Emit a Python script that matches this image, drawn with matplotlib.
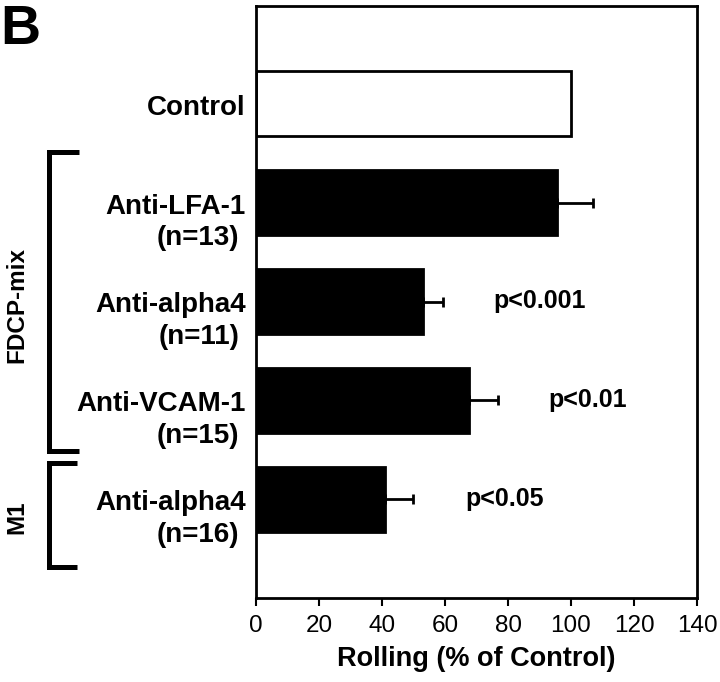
import matplotlib
matplotlib.use('Agg')
import matplotlib.pyplot as plt
from matplotlib.transforms import blended_transform_factory

plt.rcParams['font.family'] = ['Liberation Sans', 'DejaVu Sans']

categories = ['Control', 'Anti-LFA-1', 'Anti-alpha4', 'Anti-VCAM-1', 'Anti-alpha4']
n_labels = ['', '(n=13)', '(n=11)', '(n=15)', '(n=16)']
rolling = [100, 95.5, 53, 67.5, 41]
errors = [0, 11.5, 6.3, 9.3, 8.7]
bar_colors = ['white', 'black', 'black', 'black', 'black']
p_labels = ['', '', 'p<0.001', 'p<0.01', 'p<0.05']
p_x = [0, 0, 75.4, 92.7, 66.4]
groups = ['FDCP-mix', 'M1']
group_spans = [(0.49, 3.51), (3.63, 4.69)]
xticks = [0, 20, 40, 60, 80, 100, 120, 140]

fig = plt.figure(figsize=(7.2, 6.82), dpi=100)
ax = fig.add_axes([256/720, 1-598/682, 441/720, 592/682])
ypos = list(range(len(categories)))

ax.barh(ypos, rolling, height=0.66, color=bar_colors, edgecolor='black', linewidth=2, zorder=2)
ax.errorbar(rolling[1:], ypos[1:], xerr=[[0]*(len(errors)-1), errors[1:]], fmt='none',
            ecolor='black', elinewidth=2, capsize=3.6, capthick=2, zorder=3)

ax.set_xlim(0, 140)
ax.set_ylim(5.0, -0.99)
ax.set_yticks([])
ax.set_xticks(xticks)
ax.set_xticklabels([str(t) for t in xticks], fontsize=17.5)
ax.tick_params(axis='x', direction='out', length=6, width=1.5, pad=6)
for s in ax.spines.values():
    s.set_linewidth(2)
ax.set_xlabel('Rolling (% of Control)', fontsize=19.5, fontweight='bold', labelpad=7)

trans = blended_transform_factory(ax.transAxes, ax.transData)
for i, (cat, nl) in enumerate(zip(categories, n_labels)):
    ax.text(-0.0227, i + 0.11, cat, transform=trans, ha='right', va='baseline',
            fontsize=20, fontweight='bold', clip_on=False)
    if nl:
        ax.text(-0.0374, i + 0.43, nl, transform=trans, ha='right', va='baseline',
                fontsize=20, fontweight='bold', clip_on=False)

for i, p in enumerate(p_labels):
    if p:
        ax.text(p_x[i], i + 0.065, p, ha='left', va='baseline', fontsize=18, fontweight='bold')

bracket_right = [-0.4014, -0.406]
for (y0, y1), xr in zip(group_spans, bracket_right):
    ax.plot([xr, -0.4694, -0.4694, xr], [y0, y0, y1, y1], transform=trans, color='black',
            lw=3.6, clip_on=False, solid_joinstyle='miter', solid_capstyle='butt')

group_y = [2.04, 4.18]
for g, gy in zip(groups, group_y):
    ax.text(-0.543, gy, g, transform=trans, rotation=90, ha='center', va='center',
            fontsize=17.5, fontweight='bold', clip_on=False)

fig.text(0.0, 1-4/682, 'B', fontsize=40, fontweight='bold', ha='left', va='top')

fig.savefig('out.png', dpi=100)
